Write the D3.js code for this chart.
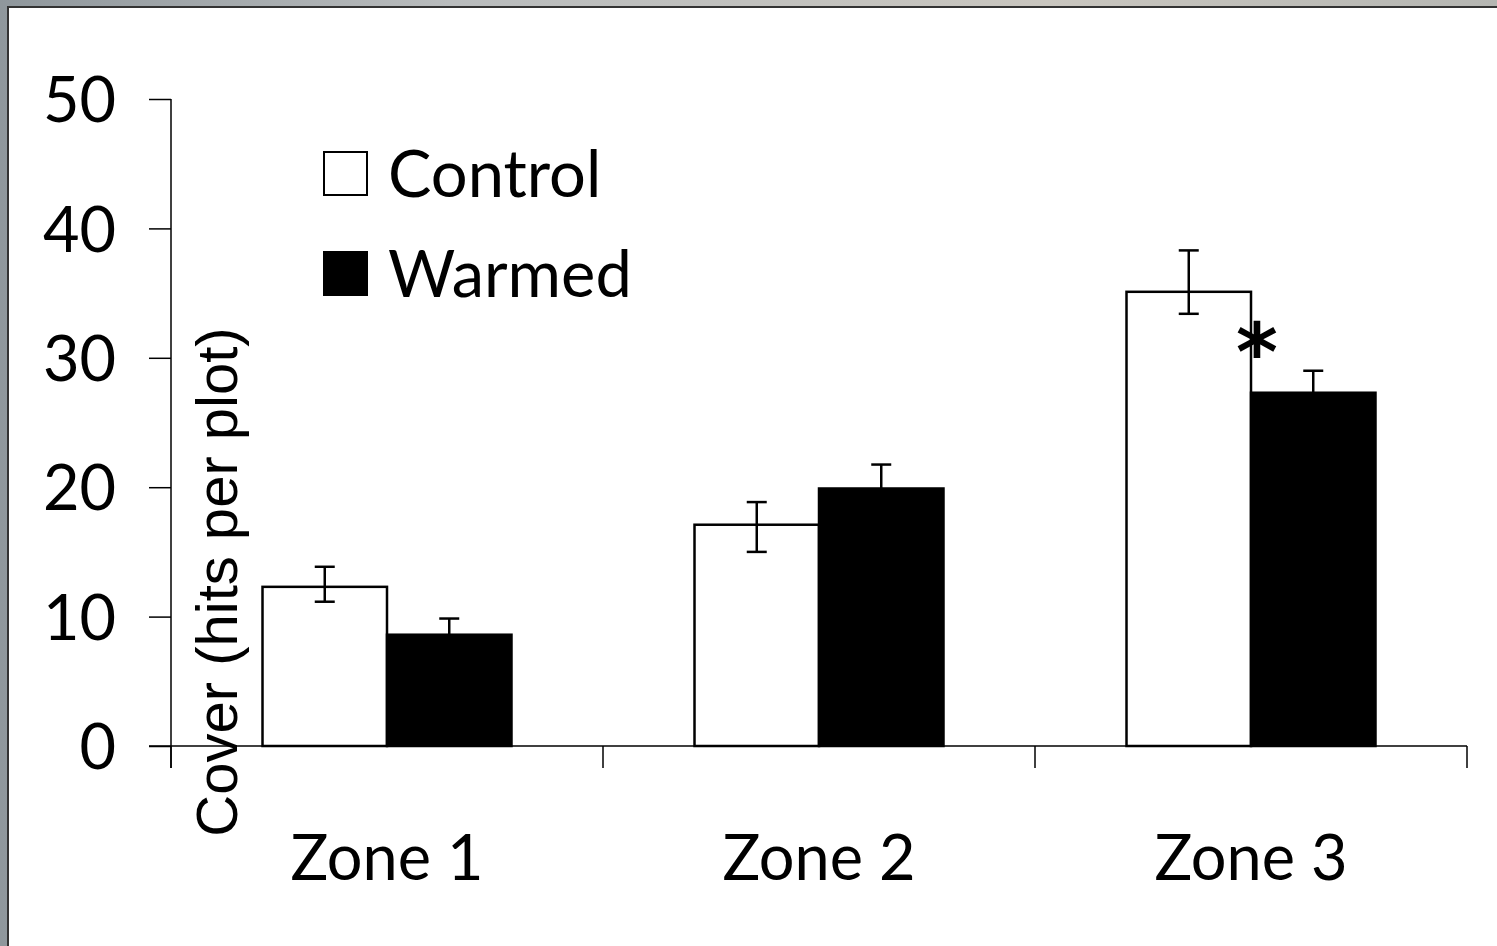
<!DOCTYPE html>
<html>
<head>
<meta charset="utf-8">
<script src="https://cdn.jsdelivr.net/npm/d3@7"></script>
<style>
  html, body { margin: 0; padding: 0; }
  body { width: 1497px; height: 946px; overflow: hidden;
         background: linear-gradient(90deg, #8f979c, #b9bcbd 30%, #c9c6bf 70%, #b5b6b2); }
  svg { display: block; }
</style>
</head>
<body>
<svg id="chart" width="1497" height="946"></svg>
<script>
// chart data
const zones = ['Zone 1', 'Zone 2', 'Zone 3'];
const treatments = ['Control', 'Warmed'];
const controlMeans = [12.3, 17.1, 35.1];
const controlErrUp = [1.55, 1.75, 3.2];
const controlErrDown = [1.15, 2.1, 1.7];
const warmedMeans = [8.6, 19.9, 27.3];
const warmedErrUp = [1.25, 1.85, 1.7];
const yTicks = [0, 10, 20, 30, 40, 50];
const starred = [false, false, true];

const fills = { Control: '#ffffff', Warmed: '#000000' };

const rows = [];
zones.forEach((z, i) => {
    rows.push({ zone: z, trt: 'Control', v: controlMeans[i], up: controlErrUp[i], down: controlErrDown[i] });
    rows.push({ zone: z, trt: 'Warmed', v: warmedMeans[i], up: warmedErrUp[i], down: 0 });
});

const svg = d3.select('#chart');

// white panel
svg.append('rect')
    .attr('x', 8).attr('y', 7)
    .attr('width', 1500).attr('height', 950)
    .attr('fill', '#fff')
    .attr('stroke', '#333').attr('stroke-width', 2);

const x0 = 171, x1 = 1467, yBase = 746, yTop = 99;

const xScale = d3.scaleBand()
    .domain(zones)
    .range([x0, x1]);

const inner = d3.scaleBand()
    .domain(treatments)
    .range([0, xScale.bandwidth()])
    .paddingInner(0)
    .paddingOuter(0.735);

const yScale = d3.scaleLinear()
    .domain([0, 50])
    .range([yBase, yTop]);

// bars
svg.append('g')
    .selectAll('rect')
    .data(rows)
    .join('rect')
    .attr('x', d => xScale(d.zone) + inner(d.trt))
    .attr('y', d => yScale(d.v))
    .attr('width', inner.bandwidth())
    .attr('height', d => yBase - yScale(d.v))
    .attr('fill', d => fills[d.trt])
    .attr('stroke', '#000')
    .attr('stroke-width', 2.5);

// error bars
const eg = svg.append('g').attr('stroke', '#000').attr('stroke-width', 2.5);
rows.forEach(d => {
    const cx = xScale(d.zone) + inner(d.trt) + inner.bandwidth() / 2;
    const hi = yScale(d.v + d.up), lo = yScale(d.v - d.down);
    eg.append('line').attr('x1', cx).attr('x2', cx).attr('y1', hi).attr('y2', lo);
    eg.append('line').attr('x1', cx - 10).attr('x2', cx + 10).attr('y1', hi).attr('y2', hi);
    if (d.down > 0) {
        eg.append('line').attr('x1', cx - 10).attr('x2', cx + 10).attr('y1', lo).attr('y2', lo);
    }
});

// significance star
zones.forEach((z, i) => {
    if (!starred[i]) return;
    svg.append('text')
        .attr('x', xScale(z) + xScale.bandwidth() / 2 + 6)
        .attr('y', yScale(warmedMeans[i] + warmedErrUp[i]) + 9)
        .attr('text-anchor', 'middle')
        .style('font-family', 'DejaVu Sans, sans-serif')
        .style('font-weight', 'bold')
        .style('font-size', '80px')
        .text('*');
});

// y axis
const yAxis = svg.append('g')
    .attr('transform', `translate(${x0},0)`)
    .call(d3.axisLeft(yScale).tickValues(yTicks).tickSize(22).tickPadding(33));
yAxis.select('.domain').remove();
yAxis.append('line').attr('x1', 0).attr('x2', 0)
    .attr('y1', yTop).attr('y2', 768).attr('stroke', '#000').attr('stroke-width', 1.5);
yAxis.selectAll('.tick line').attr('stroke-width', 1.5);
yAxis.selectAll('.tick text')
    .style('font-family', 'Lato, Noto Sans, sans-serif')
    .style('font-size', '63px')
    .attr('fill', '#000')
    .attr('dy', '0.36em');

// x axis
const xAxis = svg.append('g')
    .attr('transform', `translate(0,${yBase})`);
xAxis.append('line').attr('x1', 149).attr('x2', x1)
    .attr('stroke', '#000').attr('stroke-width', 1.5);
xAxis.selectAll('.sep')
    .data(zones.map(z => xScale(z)).concat([x1]))
    .join('line')
    .attr('x1', d => d).attr('x2', d => d)
    .attr('y1', 0).attr('y2', 22)
    .attr('stroke', '#000').attr('stroke-width', 1.5);
xAxis.selectAll('.lab')
    .data(zones)
    .join('text')
    .attr('x', d => xScale(d) + xScale.bandwidth() / 2)
    .attr('y', 134)
    .attr('text-anchor', 'middle')
    .style('font-family', 'Lato, Noto Sans, sans-serif')
    .style('font-size', '63px')
    .text(d => d);

// y axis title
svg.append('text')
    .attr('transform', 'translate(237,582) rotate(-90)')
    .attr('text-anchor', 'middle')
    .style('font-family', 'Liberation Sans, Arial, sans-serif')
    .style('font-size', '58px')
    .text('Cover (hits per plot)');

// legend
const leg = svg.append('g').attr('transform', 'translate(323,151)');
treatments.forEach((t, i) => {
    leg.append('rect')
        .attr('x', 1).attr('y', i * 100 + 1)
        .attr('width', 43).attr('height', 43)
        .attr('fill', fills[t]).attr('stroke', '#000').attr('stroke-width', 2);
    leg.append('text')
        .attr('x', 65).attr('y', i * 100 + 46)
        .style('font-family', 'Lato, Noto Sans, sans-serif')
        .style('font-size', '65px')
        .text(t);
});
</script>
</body>
</html>
